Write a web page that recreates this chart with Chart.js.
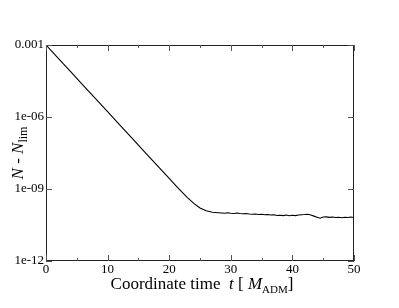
<!DOCTYPE html>
<html>
<head>
<meta charset="utf-8">
<script src="https://cdn.jsdelivr.net/npm/chart.js@4/dist/chart.umd.min.js"></script>
<style>
  body { margin: 0; background: #fff; }
  canvas { display: block; }
</style>
</head>
<body>
<canvas id="myChart" width="399" height="308"></canvas>
<script>
// data
var times = [0, 2, 4, 6, 8, 10, 12, 14, 16, 18, 20, 21, 22, 23, 24, 25, 26, 27, 28,
  28.5, 29, 29.5, 30, 30.5, 31, 31.5, 32, 32.5, 33, 33.5, 34, 34.5, 35, 35.5, 36, 36.5,
  37, 37.5, 38, 38.5, 39, 39.5, 40, 40.5, 41, 41.5, 42, 42.5, 43, 43.5, 44, 44.5, 45,
  45.5, 46, 46.5, 47, 47.5, 48, 48.5, 49, 49.5, 50];
var residual = [1.0e-3, 2.78e-4, 7.73e-5, 2.15e-5, 5.97e-6, 1.66e-6, 4.61e-7, 1.28e-7,
  3.56e-8, 9.9e-9, 2.75e-9, 1.45e-9, 7.76e-10, 4.27e-10, 2.51e-10, 1.62e-10, 1.24e-10,
  1.07e-10, 1.02e-10,
  1.00e-10, 9.8e-11, 1.02e-10, 9.8e-11, 9.5e-11, 1.0e-10, 9.5e-11, 9.3e-11, 9.5e-11,
  9.1e-11, 8.9e-11, 9.1e-11, 8.7e-11, 8.9e-11, 8.5e-11, 8.7e-11, 8.3e-11, 8.5e-11,
  7.9e-11, 8.1e-11, 7.8e-11, 8.3e-11, 7.7e-11, 8.1e-11, 7.8e-11, 8.2e-11, 8.5e-11,
  8.6e-11, 8.8e-11, 8.2e-11, 7.4e-11, 6.7e-11, 6.1e-11, 6.8e-11, 6.9e-11, 6.6e-11,
  6.8e-11, 6.5e-11, 6.6e-11, 6.3e-11, 6.6e-11, 6.5e-11, 6.8e-11, 6.5e-11];
var xMajorTicks = [0, 10, 20, 30, 40, 50];
var xMinorTicks = [5, 15, 25, 35, 45];
var yTicks = [1e-12, 1e-9, 1e-6, 1e-3];
var yTickLabels = ['1e-12', '1e-09', '1e-06', '0.001'];

var serif = '"Liberation Serif", "DejaVu Serif", serif';

// frame, inward ticks and the axis titles with subscripts
var framePlugin = {
  id: 'frame',
  afterDraw: function (chart) {
    var c = chart.ctx, a = chart.chartArea;
    var xs = chart.scales.x, ys = chart.scales.y;
    c.save();
    c.strokeStyle = '#222';
    c.lineWidth = 1;
    c.strokeRect(Math.round(a.left) + 0.5, Math.round(a.top) + 0.5,
      Math.round(a.right - a.left) - 1, Math.round(a.bottom - a.top) - 1);
    c.strokeStyle = '#555';
    c.beginPath();
    xMajorTicks.forEach(function (v) {
      var px = Math.round(xs.getPixelForValue(v)) + 0.5;
      c.moveTo(px, a.bottom); c.lineTo(px, a.bottom - 6);
      c.moveTo(px, a.top); c.lineTo(px, a.top + 6);
    });
    xMinorTicks.forEach(function (v) {
      var px = Math.round(xs.getPixelForValue(v)) + 0.5;
      c.moveTo(px, a.bottom); c.lineTo(px, a.bottom - 3);
      c.moveTo(px, a.top); c.lineTo(px, a.top + 3);
    });
    yTicks.forEach(function (v) {
      var py = Math.round(ys.getPixelForValue(v)) + 0.5;
      c.moveTo(a.left, py); c.lineTo(a.left + 6, py);
      c.moveTo(a.right, py); c.lineTo(a.right - 6, py);
    });
    c.stroke();

    c.fillStyle = '#000';
    c.textBaseline = 'alphabetic';
    c.textAlign = 'left';
    // x title
    var parts = [
      { t: 'Coordinate time  ', f: '17px ' + serif, dy: 0 },
      { t: 't', f: 'italic 17px ' + serif, dy: 0 },
      { t: ' [ ', f: '17px ' + serif, dy: 0 },
      { t: 'M', f: 'italic 17px ' + serif, dy: 0 },
      { t: 'ADM', f: '11px ' + serif, dy: 4 },
      { t: ']', f: '17px ' + serif, dy: 0 }
    ];
    var w = 0;
    parts.forEach(function (p) { c.font = p.f; p.w = c.measureText(p.t).width; w += p.w; });
    var x = (a.left + a.right) / 2 + 2 - w / 2;
    parts.forEach(function (p) { c.font = p.f; c.fillText(p.t, x, 289 + p.dy); x += p.w; });

    // y title
    var yparts = [
      { t: 'N', f: 'italic 17px ' + serif, dy: 0 },
      { t: ' - ', f: '17px ' + serif, dy: 0 },
      { t: 'N', f: 'italic 17px ' + serif, dy: 0 },
      { t: 'lim', f: '12px ' + serif, dy: 4 }
    ];
    var h = 0;
    yparts.forEach(function (p) { c.font = p.f; p.w = c.measureText(p.t).width; h += p.w; });
    c.translate(23, 153 + h / 2);
    c.rotate(-Math.PI / 2);
    var s = 0;
    yparts.forEach(function (p) { c.font = p.f; c.fillText(p.t, s, p.dy); s += p.w; });
    c.restore();
  }
};

var ctx = document.getElementById('myChart').getContext('2d');
var myChart = new Chart(ctx, {
  type: 'line',
  data: {
    datasets: [{
      data: times.map(function (t, i) { return { x: t, y: residual[i] }; }),
      borderColor: '#000',
      borderWidth: 1.1,
      pointRadius: 0,
      tension: 0,
      fill: false
    }]
  },
  options: {
    responsive: false,
    animation: false,
    devicePixelRatio: 1,
    layout: { padding: { left: 0, top: 45, right: 45, bottom: 0 } },
    plugins: { legend: { display: false }, tooltip: { enabled: false } },
    scales: {
      x: {
        type: 'linear', min: 0, max: 50,
        grid: { display: false, drawTicks: false },
        border: { display: false },
        afterBuildTicks: function (s) { s.ticks = xMajorTicks.map(function (v) { return { value: v }; }); },
        afterFit: function (s) { s.height = 47; },
        ticks: { padding: 1, maxRotation: 0, color: '#000', font: { family: serif, size: 13 } }
      },
      y: {
        type: 'logarithmic', min: 1e-12, max: 1e-3,
        grid: { display: false, drawTicks: false },
        border: { display: false },
        afterBuildTicks: function (s) { s.ticks = yTicks.map(function (v) { return { value: v }; }); },
        afterFit: function (s) { s.width = 46; },
        ticks: {
          padding: 2, color: '#000', font: { family: serif, size: 13 },
          callback: function (v, i) { return yTickLabels[i]; }
        }
      }
    }
  },
  plugins: [framePlugin]
});
</script>
</body>
</html>
